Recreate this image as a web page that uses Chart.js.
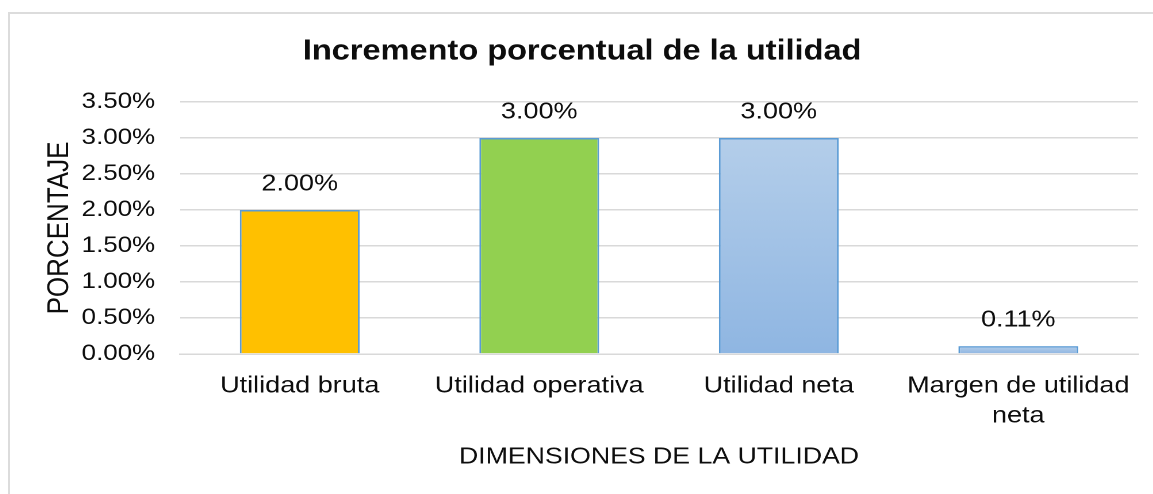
<!DOCTYPE html>
<html>
<head>
<meta charset="utf-8">
<script src="https://cdn.jsdelivr.net/npm/chart.js@4/dist/chart.umd.min.js"></script>
<style>
  html, body { margin: 0; padding: 0; background: #ffffff; overflow: hidden; width: 1153px; height: 494px; }
  #frame { position: absolute; left: 8px; top: 12px; width: 1144px; height: 520px; border: 2px solid #dcdcdc; background: #fff; }
  #c { position: absolute; left: 0; top: 0; transform-origin: 0 0; transform: scaleX(1.15); }
</style>
</head>
<body>
<div id="frame"><canvas id="c" width="995" height="480" style="width:995px;height:480px"></canvas></div>
<script>
// ---- data ----
const chartTitle = 'Incremento porcentual de la utilidad';
const categories = ['Utilidad bruta', 'Utilidad operativa', 'Utilidad neta', ['Margen de utilidad', 'neta']];
const values = [2.00, 3.00, 3.00, 0.11];
const fillColors = ['#FFC000', '#92D050', 'gradient', 'gradient'];
const yTitle = 'PORCENTAJE';
const xTitle = 'DIMENSIONES DE LA UTILIDAD';
const yMin = 0, yMax = 3.5, yStep = 0.5;

const FONT = '"Liberation Sans", Arial, sans-serif';
const PADX = 14.1;

const canvas = document.getElementById('c');

function barFill(context) {
  const kind = fillColors[context.dataIndex];
  if (kind !== 'gradient') return kind;
  const chart = context.chart;
  if (!chart.chartArea || !chart.scales.y) return '#A2C2E6';
  const ys = chart.scales.y;
  const top = ys.getPixelForValue(values[context.dataIndex]);
  const base = ys.getPixelForValue(0);
  const g = chart.ctx.createLinearGradient(0, top, 0, base);
  g.addColorStop(0, '#B4CEEA');
  g.addColorStop(1, '#8FB6E2');
  return g;
}

const valueLabels = {
  id: 'valueLabels',
  afterDatasetsDraw(chart) {
    const ctx = chart.ctx;
    const meta = chart.getDatasetMeta(0);
    ctx.save();
    ctx.font = '23.5px ' + FONT;
    ctx.fillStyle = '#0d0d0d';
    ctx.textAlign = 'center';
    ctx.textBaseline = 'middle';
    meta.data.forEach((el, i) => {
      ctx.fillText(values[i].toFixed(2) + '%', el.x, el.y - 26);
    });
    ctx.restore();
  }
};

new Chart(canvas, {
  type: 'bar',
  data: {
    labels: categories,
    datasets: [{
      data: values,
      backgroundColor: barFill,
      borderColor: '#5B9BD5',
      borderWidth: 1.5,
      barPercentage: 0.5,
      categoryPercentage: 1.0
    }]
  },
  options: {
    responsive: false,
    maintainAspectRatio: false,
    devicePixelRatio: 2,
    animation: false,
    layout: { padding: { left: PADX, right: PADX, top: 0, bottom: 0 } },
    plugins: {
      legend: { display: false },
      tooltip: { enabled: false },
      title: {
        display: true,
        text: chartTitle,
        color: '#0d0d0d',
        font: { family: FONT, size: 28.3, weight: 'bold', lineHeight: 1.2 },
        padding: { top: 20.7, bottom: 33.3 }
      }
    },
    scales: {
      x: {
        grid: { display: false, drawTicks: false },
        border: { display: true, color: '#d9d9d9', width: 1.5 },
        ticks: {
          color: '#0d0d0d',
          padding: 17,
          maxRotation: 0,
          autoSkip: false,
          font: { family: FONT, size: 23.5, lineHeight: 30 / 23.5 }
        },
        title: {
          display: true,
          text: xTitle,
          color: '#0d0d0d',
          font: { family: FONT, size: 23.2, lineHeight: 1.2 },
          padding: { top: 0, bottom: 23.1 }
        },
        afterFit(scale) { scale.height = 140; }
      },
      y: {
        min: yMin,
        max: yMax,
        grid: { color: '#d9d9d9', lineWidth: 1.5, drawTicks: false },
        border: { display: false },
        ticks: {
          stepSize: yStep,
          color: '#0d0d0d',
          padding: 21.7,
          font: { family: FONT, size: 22.5 },
          callback: v => Number(v).toFixed(2) + '%'
        },
        title: {
          display: true,
          text: yTitle,
          color: '#0d0d0d',
          font: { family: FONT, size: 26, lineHeight: 1.2 },
          padding: { top: 13.5, bottom: 0 }
        },
        afterFit(scale) { scale.width = 133.7; }
      }
    }
  },
  plugins: [valueLabels]
});
</script>
</body>
</html>
